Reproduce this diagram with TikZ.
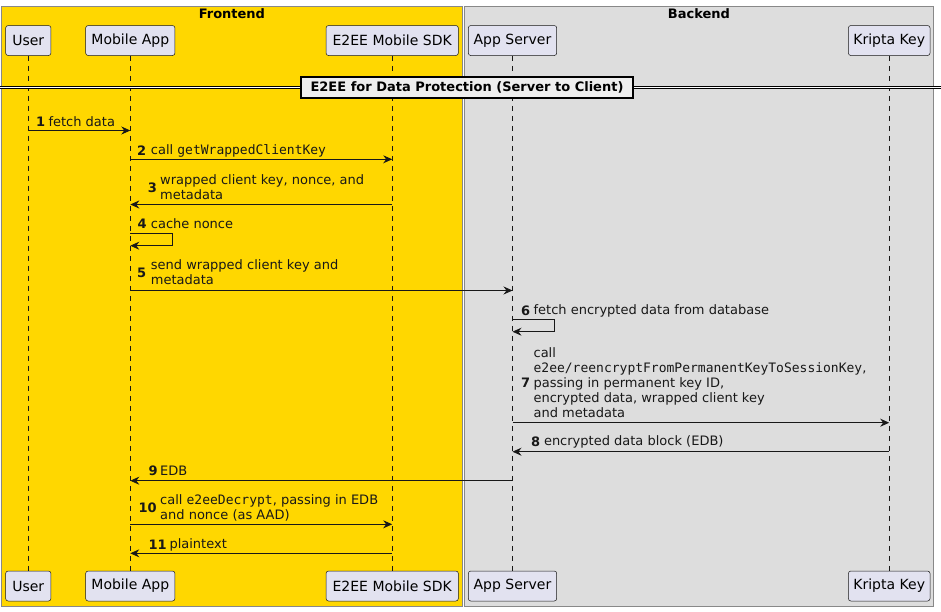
\documentclass[tikz,border=0pt]{standalone}
\usepackage{fontspec}
\setmainfont{DejaVu Sans}
\setmonofont{DejaVu Sans Mono}
\usetikzlibrary{arrows.meta}
\definecolor{gold}{HTML}{FFD700}
\definecolor{backg}{HTML}{DDDDDD}
\definecolor{partfill}{HTML}{E2E2F0}
\definecolor{ink}{HTML}{181818}
\definecolor{boxline}{HTML}{888888}
\definecolor{divfill}{HTML}{EEEEEE}
\begin{document}
\begin{tikzpicture}[x=1pt,y=-1pt,
 part/.style={draw=ink, fill=partfill, rounded corners=2.5pt, line width=0.5pt, minimum height=30pt, inner sep=0pt, font=\fontsize{14}{16}\selectfont, text=black},
 life/.style={draw=ink, dash pattern=on 5pt off 5pt, line width=0.5pt},
 msg/.style={draw=ink, line width=0.8pt, -{Stealth[length=9pt,width=8pt,inset=3pt]}},
 num/.style={font=\fontsize{13}{15}\selectfont\bfseries, inner sep=0pt, anchor=west, text=ink},
 lbl/.style={font=\fontsize{13}{15}\selectfont, inner sep=0pt, anchor=west, align=left, text=ink},
 grp/.style={draw=boxline, line width=0.8pt},
 grptitle/.style={font=\fontsize{13}{15}\selectfont\bfseries, inner sep=0pt},
 divbox/.style={draw=black, fill=divfill, line width=1.5pt, minimum width=332pt, minimum height=21pt, inner sep=0pt, font=\fontsize{13}{15}\selectfont\bfseries}
]
\useasboundingbox (0,0) rectangle (941,611);
% groups
\fill[white] (0,0) rectangle (941,611);
\draw[grp, fill=gold] (1.5,6) rectangle (462.3,606);
\draw[grp, fill=backg] (464.3,6) rectangle (933.5,606);
\node[grptitle] (fronttitle) at (231.9,13.5) {Frontend};
\node[grptitle] (backtitle) at (698.9,13.5) {Backend};
% participants top
\node[part, minimum width=45.3pt] (user) at (28.3,40.5) {User};
\node[part, minimum width=89.3pt] (app) at (130.3,40.5) {Mobile App};
\node[part, minimum width=132.3pt] (sdk) at (392.2,40.5) {E2EE Mobile SDK};
\node[part, minimum width=88.4pt] (server) at (512.5,40.5) {App Server};
\node[part, minimum width=81.7pt] (kripta) at (889.2,40.5) {Kripta Key};
% participants bottom
\node[part, minimum width=45.3pt] (userB) at (28.3,586) {User};
\node[part, minimum width=89.3pt] (appB) at (130.3,586) {Mobile App};
\node[part, minimum width=132.3pt] (sdkB) at (392.2,586) {E2EE Mobile SDK};
\node[part, minimum width=88.4pt] (serverB) at (512.5,586) {App Server};
\node[part, minimum width=81.7pt] (kriptaB) at (889.2,586) {Kripta Key};
% lifelines
\draw[life] (user.south) -- (userB.north);
\draw[life] (app.south) -- (appB.north);
\draw[life] (sdk.south) -- (sdkB.north);
\draw[life] (server.south) -- (serverB.north);
\draw[life] (kripta.south) -- (kriptaB.north);
% divider
\coordinate (divL) at (0,87.5);
\coordinate (divR) at (941,87.5);
\draw[black, line width=0.8pt, double=white, double distance=1.6pt] (divL) -- (divR);
\node[divbox] (div) at (467,87.5) {E2EE for Data Protection (Server to Client)};
% message 1
\node[num] (n1) at (36,121.7) {1};
\node[lbl] (t1) at (48.3,121.7) {fetch data};
\draw[msg] (user |- 0,130.5) -- (app |- 0,130.5);
% message 2
\node[num] (n2) at (137,151) {2};
\node[lbl] (t2) at (150.7,151) {call \texttt{getWrappedClientKey}};
\draw[msg] (app |- 0,159.3) -- (sdk |- 0,159.3);
% message 3
\node[num] (n3) at (147.7,187.5) {3};
\node[lbl] (t3) at (160,187.5) {wrapped client key, nonce, and\\metadata};
\draw[msg] (sdk |- 0,204.5) -- (app |- 0,204.5);
% message 4
\node[num] (n4) at (137.3,223.3) {4};
\node[lbl] (t4) at (150.7,223.3) {cache nonce};
\coordinate (s4a) at (172.3,233.3);
\coordinate (s4b) at (172.3,245.7);
\draw[msg] (app |- 0,233.3) -- (s4a) -- (s4b) -- (app |- 0,245.7);
% message 5
\node[num] (n5) at (137,272.5) {5};
\node[lbl] (t5) at (150.7,272.5) {send wrapped client key and\\metadata};
\draw[msg] (app |- 0,290.5) -- (server |- 0,290.5);
% message 6
\node[num] (n6) at (521,310.7) {6};
\node[lbl] (t6) at (533.4,310.7) {fetch encrypted data from database};
\coordinate (s6a) at (554.5,319.5);
\coordinate (s6b) at (554.5,331.7);
\draw[msg] (server |- 0,319.5) -- (s6a) -- (s6b) -- (server |- 0,331.7);
% message 7
\node[num] (n7) at (521,382.5) {7};
\node[lbl] (t7) at (533.4,382.5) {call\\\texttt{e2ee/reencryptFromPermanentKeyToSessionKey},\\passing in permanent key ID,\\encrypted data, wrapped client key\\and metadata};
\draw[msg] (server |- 0,422.7) -- (kripta |- 0,422.7);
% message 8
\node[num] (n8) at (531,441.7) {8};
\node[lbl] (t8) at (543.8,441.7) {encrypted data block (EDB)};
\draw[msg] (kripta |- 0,451.7) -- (server |- 0,451.7);
% message 9
\node[num] (n9) at (148.3,470.7) {9};
\node[lbl] (t9) at (160,470.7) {EDB};
\draw[msg] (server |- 0,480.7) -- (app |- 0,480.7);
% message 10
\node[num] (n10) at (138.3,507.8) {10};
\node[lbl] (t10) at (160,507.8) {call \texttt{e2eeDecrypt}, passing in EDB\\and nonce (as AAD)};
\draw[msg] (app |- 0,524.3) -- (sdk |- 0,524.3);
% message 11
\node[num] (n11) at (148.3,545) {11};
\node[lbl] (t11) at (169.3,545) {plaintext};
\draw[msg] (sdk |- 0,553.3) -- (app |- 0,553.3);
\end{tikzpicture}
\end{document}
